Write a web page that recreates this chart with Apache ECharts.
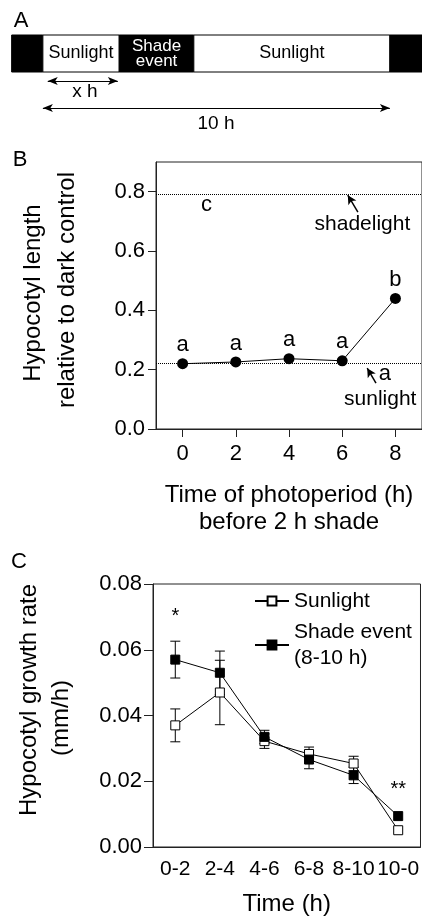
<!DOCTYPE html>
<html>
<head>
<meta charset="utf-8">
<script src="https://cdn.jsdelivr.net/npm/echarts@6/dist/echarts.min.js"></script>
<style>
  html, body { margin: 0; padding: 0; background: #fff; }
  #mychart { width: 422px; height: 919px; }
</style>
</head>
<body>
<div id="mychart"></div>
<script>
// panel A: schematic of the day (hours)
var phaseStart = [-0.9, 0, 2.2, 4.35, 10];
var phaseEnd = [0, 2.2, 4.35, 10, 10.95];
var phaseDark = [1, 0, 1, 0, 1];
var phaseText = ['', 'Sunlight', 'Shade\nevent', 'Sunlight', ''];

// panel B
var photoperiod = [0, 2, 4, 6, 8];
var relLength = [0.22, 0.226, 0.237, 0.23, 0.44];
var relLetters = ['a', 'a', 'a', 'a', 'b'];
var shadelightLevel = 0.79;
var sunlightLevel = 0.22;
var bTicks = [0, 2, 4, 6, 8];
var bYTicks = [0, 0.2, 0.4, 0.6, 0.8];

// panel C
var timeBins = ['0-2', '2-4', '4-6', '6-8', '8-10', '10-0'];
var sunRate = [0.037, 0.047, 0.0322, 0.0283, 0.0254, 0.0051];
var sunErr = [0.005, 0.0098, 0.0022, 0.0021, 0.0022, 0];
var shadeRate = [0.057, 0.053, 0.0335, 0.0266, 0.0218, 0.0094];
var shadeErr = [0.0056, 0.0066, 0.002, 0.0028, 0.0025, 0];
var signif = ['*', '', '', '', '', '**'];

var font = '"Liberation Sans", Arial, sans-serif';
var ink = '#000';
var axisInk = '#222';

function errData(means, errs) {
    return means.map(function (m, i) { return [i, m, errs[i]]; });
}

function errorBars(params, api) {
    var x = api.value(0), m = api.value(1), e = api.value(2);
    if (!e) return;
    var top = api.coord([x, m + e]);
    var bot = api.coord([x, m - e]);
    var w = 5;
    var st = {stroke: ink, lineWidth: 1};
    return {
        type: 'group',
        children: [
            {type: 'line', shape: {x1: top[0], y1: top[1], x2: bot[0], y2: bot[1]}, style: st},
            {type: 'line', shape: {x1: top[0] - w, y1: top[1], x2: top[0] + w, y2: top[1]}, style: st},
            {type: 'line', shape: {x1: bot[0] - w, y1: bot[1], x2: bot[0] + w, y2: bot[1]}, style: st}
        ]
    };
}

var option = {
    animation: false,
    textStyle: {fontFamily: font, color: ink},
    graphic: [
        {type: 'text', x: 21, y: 21, style: {text: 'A', fill: ink, font: '22px ' + font, textAlign: 'center', textVerticalAlign: 'middle'}},
        {type: 'text', x: 20, y: 160, style: {text: 'B', fill: ink, font: '22px ' + font, textAlign: 'center', textVerticalAlign: 'middle'}},
        {type: 'text', x: 19, y: 562, style: {text: 'C', fill: ink, font: '22px ' + font, textAlign: 'center', textVerticalAlign: 'middle'}},
        {type: 'text', x: 33, y: 293, rotation: Math.PI / 2, style: {text: 'Hypocotyl length', font: '24px ' + font, fill: ink, textAlign: 'center', textVerticalAlign: 'middle'}},
        {type: 'text', x: 67, y: 290, rotation: Math.PI / 2, style: {text: 'relative to dark control', font: '24px ' + font, fill: ink, textAlign: 'center', textVerticalAlign: 'middle'}},
        {type: 'text', x: 29, y: 700, rotation: Math.PI / 2, style: {text: 'Hypocotyl growth rate', font: '24px ' + font, fill: ink, textAlign: 'center', textVerticalAlign: 'middle'}},
        {type: 'text', x: 61, y: 718, rotation: Math.PI / 2, style: {text: '(mm/h)', font: '24px ' + font, fill: ink, textAlign: 'center', textVerticalAlign: 'middle'}}
    ],
    legend: {
        left: 249,
        top: 583,
        orient: 'vertical',
        itemWidth: 34,
        itemHeight: 11,
        itemGap: 5,
        textStyle: {fontSize: 21, lineHeight: 26, color: ink, fontFamily: font},
        data: ['Sunlight', 'Shade event\n(8-10 h)']
    },
    grid: [
        {left: 12, right: 0, top: 35, height: 100},
        {left: 156, right: -1, top: 162, height: 267, show: true, borderColor: axisInk, borderWidth: 1},
        {left: 153, right: -1, top: 584, height: 264, show: true, borderColor: axisInk, borderWidth: 1}
    ],
    xAxis: [
        {gridIndex: 0, type: 'value', min: -0.89, max: 10.925, show: false},
        {
            gridIndex: 1, type: 'value', min: -1, max: 9,
            splitLine: {show: false},
            axisLine: {show: true, onZero: false, lineStyle: {color: axisInk}},
            axisTick: {show: true, customValues: bTicks, length: 8, lineStyle: {color: axisInk}},
            axisLabel: {customValues: bTicks, fontSize: 22, margin: 14, color: ink},
            name: 'Time of photoperiod (h)\nbefore 2 h shade',
            nameLocation: 'middle',
            nameGap: 53,
            nameTextStyle: {fontSize: 24, lineHeight: 27, color: ink}
        },
        {
            gridIndex: 2, type: 'category', data: timeBins, boundaryGap: true,
            axisLine: {show: true, onZero: false, lineStyle: {color: axisInk}},
            axisTick: {show: false},
            axisLabel: {fontSize: 21, margin: 12, color: ink, interval: 0},
            name: 'Time (h)',
            nameLocation: 'middle',
            nameGap: 44,
            nameTextStyle: {fontSize: 24, lineHeight: 27, color: ink}
        }
    ],
    yAxis: [
        {gridIndex: 0, type: 'value', min: 0, max: 10, inverse: true, show: false},
        {
            gridIndex: 1, type: 'value', min: 0, max: 0.9,
            splitLine: {show: false},
            axisLine: {show: true, onZero: false, lineStyle: {color: axisInk}},
            axisTick: {show: true, customValues: bYTicks, length: 8, lineStyle: {color: axisInk}},
            axisLabel: {customValues: bYTicks, fontSize: 22, margin: 11, color: ink,
                formatter: function (v) { return v.toFixed(1); }}
        },
        {
            gridIndex: 2, type: 'value', min: 0, max: 0.08, interval: 0.02,
            splitLine: {show: false},
            axisLine: {show: true, onZero: false, lineStyle: {color: axisInk}},
            axisTick: {show: true, length: 9, lineStyle: {color: axisInk}},
            axisLabel: {fontSize: 22, margin: 11, color: ink,
                formatter: function (v) { return v.toFixed(2); }}
        }
    ],
    series: [
        // A: timeline blocks
        {
            type: 'custom',
            xAxisIndex: 0, yAxisIndex: 0,
            data: phaseStart.map(function (s, i) { return [s, phaseEnd[i], phaseDark[i]]; }),
            renderItem: function (params, api) {
                var p0 = api.coord([api.value(0), 0]);
                var p1 = api.coord([api.value(1), 3.7]);
                var dark = api.value(2);
                var txt = phaseText[params.dataIndex];
                return {
                    type: 'rect',
                    shape: {x: p0[0], y: p0[1], width: p1[0] - p0[0], height: p1[1] - p0[1]},
                    style: {fill: dark ? '#000' : '#fff', stroke: '#000', lineWidth: 1},
                    textContent: {style: {text: txt, fill: dark ? '#fff' : '#000',
                        fontSize: dark ? 17 : 18, lineHeight: 15, fontFamily: font, align: 'center'}},
                    textConfig: {position: 'inside'}
                };
            }
        },
        // A: arrows and labels
        {
            type: 'scatter',
            xAxisIndex: 0, yAxisIndex: 0,
            symbolSize: 0,
            itemStyle: {color: ink, opacity: 1},
            data: [
                {value: [1.21, 5.7], label: {formatter: 'x h'}},
                {value: [4.99, 8.9], label: {formatter: '10 h'}}
            ],
            label: {show: true, position: 'inside', fontSize: 19, color: ink},
            markLine: {
                silent: true,
                symbol: ['arrow', 'arrow'],
                symbolSize: [6, 10],
                label: {show: false},
                lineStyle: {color: ink, type: 'solid', width: 1},
                data: [
                    [{coord: [0.14, 4.6]}, {coord: [2.16, 4.6]}],
                    [{coord: [0, 7.3]}, {coord: [10, 7.3]}]
                ]
            }
        },
        // B: data
        {
            type: 'line',
            xAxisIndex: 1, yAxisIndex: 1,
            data: photoperiod.map(function (h, i) { return [h, relLength[i]]; }),
            symbol: 'circle',
            symbolSize: 11,
            itemStyle: {color: ink},
            lineStyle: {color: ink, width: 1},
            label: {show: true, position: 'top', distance: 2, fontSize: 22, color: ink,
                formatter: function (p) { return relLetters[p.dataIndex]; }},
            markLine: {
                silent: true,
                symbol: 'none',
                label: {show: false},
                lineStyle: {color: ink, type: 'dotted', width: 1},
                data: [{yAxis: shadelightLevel}, {yAxis: sunlightLevel}]
            },
            z: 3
        },
        // B: annotations
        {
            type: 'scatter',
            xAxisIndex: 1, yAxisIndex: 1,
            symbolSize: 0,
            itemStyle: {color: ink, opacity: 1},
            label: {show: true, position: 'inside', fontSize: 21, color: ink},
            data: [
                {value: [0.9, 0.755], label: {formatter: 'c', fontSize: 22}},
                {value: [6.76, 0.69], label: {formatter: 'shadelight'}},
                {value: [7.6, 0.186], label: {formatter: 'a', fontSize: 22}},
                {value: [7.43, 0.102], label: {formatter: 'sunlight'}}
            ],
            markLine: {
                silent: true,
                symbol: ['none', 'arrow'],
                symbolSize: [7, 9],
                label: {show: false},
                lineStyle: {color: ink, type: 'solid', width: 1.5},
                data: [
                    [{coord: [6.59, 0.731]}, {coord: [6.21, 0.788]}],
                    [{coord: [7.27, 0.155]}, {coord: [6.94, 0.205]}]
                ]
            }
        },
        // C: error bars
        {
            type: 'custom', xAxisIndex: 2, yAxisIndex: 2,
            data: errData(sunRate, sunErr), renderItem: errorBars, z: 1
        },
        {
            type: 'custom', xAxisIndex: 2, yAxisIndex: 2,
            data: errData(shadeRate, shadeErr), renderItem: errorBars, z: 1
        },
        // C: lines
        {
            name: 'Sunlight',
            type: 'line', xAxisIndex: 2, yAxisIndex: 2,
            data: sunRate,
            symbol: 'rect', symbolSize: 9,
            itemStyle: {color: '#fff', borderColor: ink, borderWidth: 1},
            lineStyle: {color: ink, width: 1},
            z: 3
        },
        {
            name: 'Shade event\n(8-10 h)',
            type: 'line', xAxisIndex: 2, yAxisIndex: 2,
            data: shadeRate,
            symbol: 'rect', symbolSize: 9,
            itemStyle: {color: ink, borderColor: ink, borderWidth: 1},
            lineStyle: {color: ink, width: 1},
            z: 4
        },
        // C: significance marks
        {
            type: 'scatter', xAxisIndex: 2, yAxisIndex: 2,
            symbolSize: 0,
            itemStyle: {color: ink, opacity: 1},
            label: {show: true, position: 'inside', fontSize: 20, color: ink,
                formatter: function (p) { return signif[p.value[0]]; }},
            data: [[0, 0.07], [5, 0.0175]]
        }
    ]
};

var mychart = echarts.init(document.getElementById('mychart'));
mychart.setOption(option);
</script>
</body>
</html>
